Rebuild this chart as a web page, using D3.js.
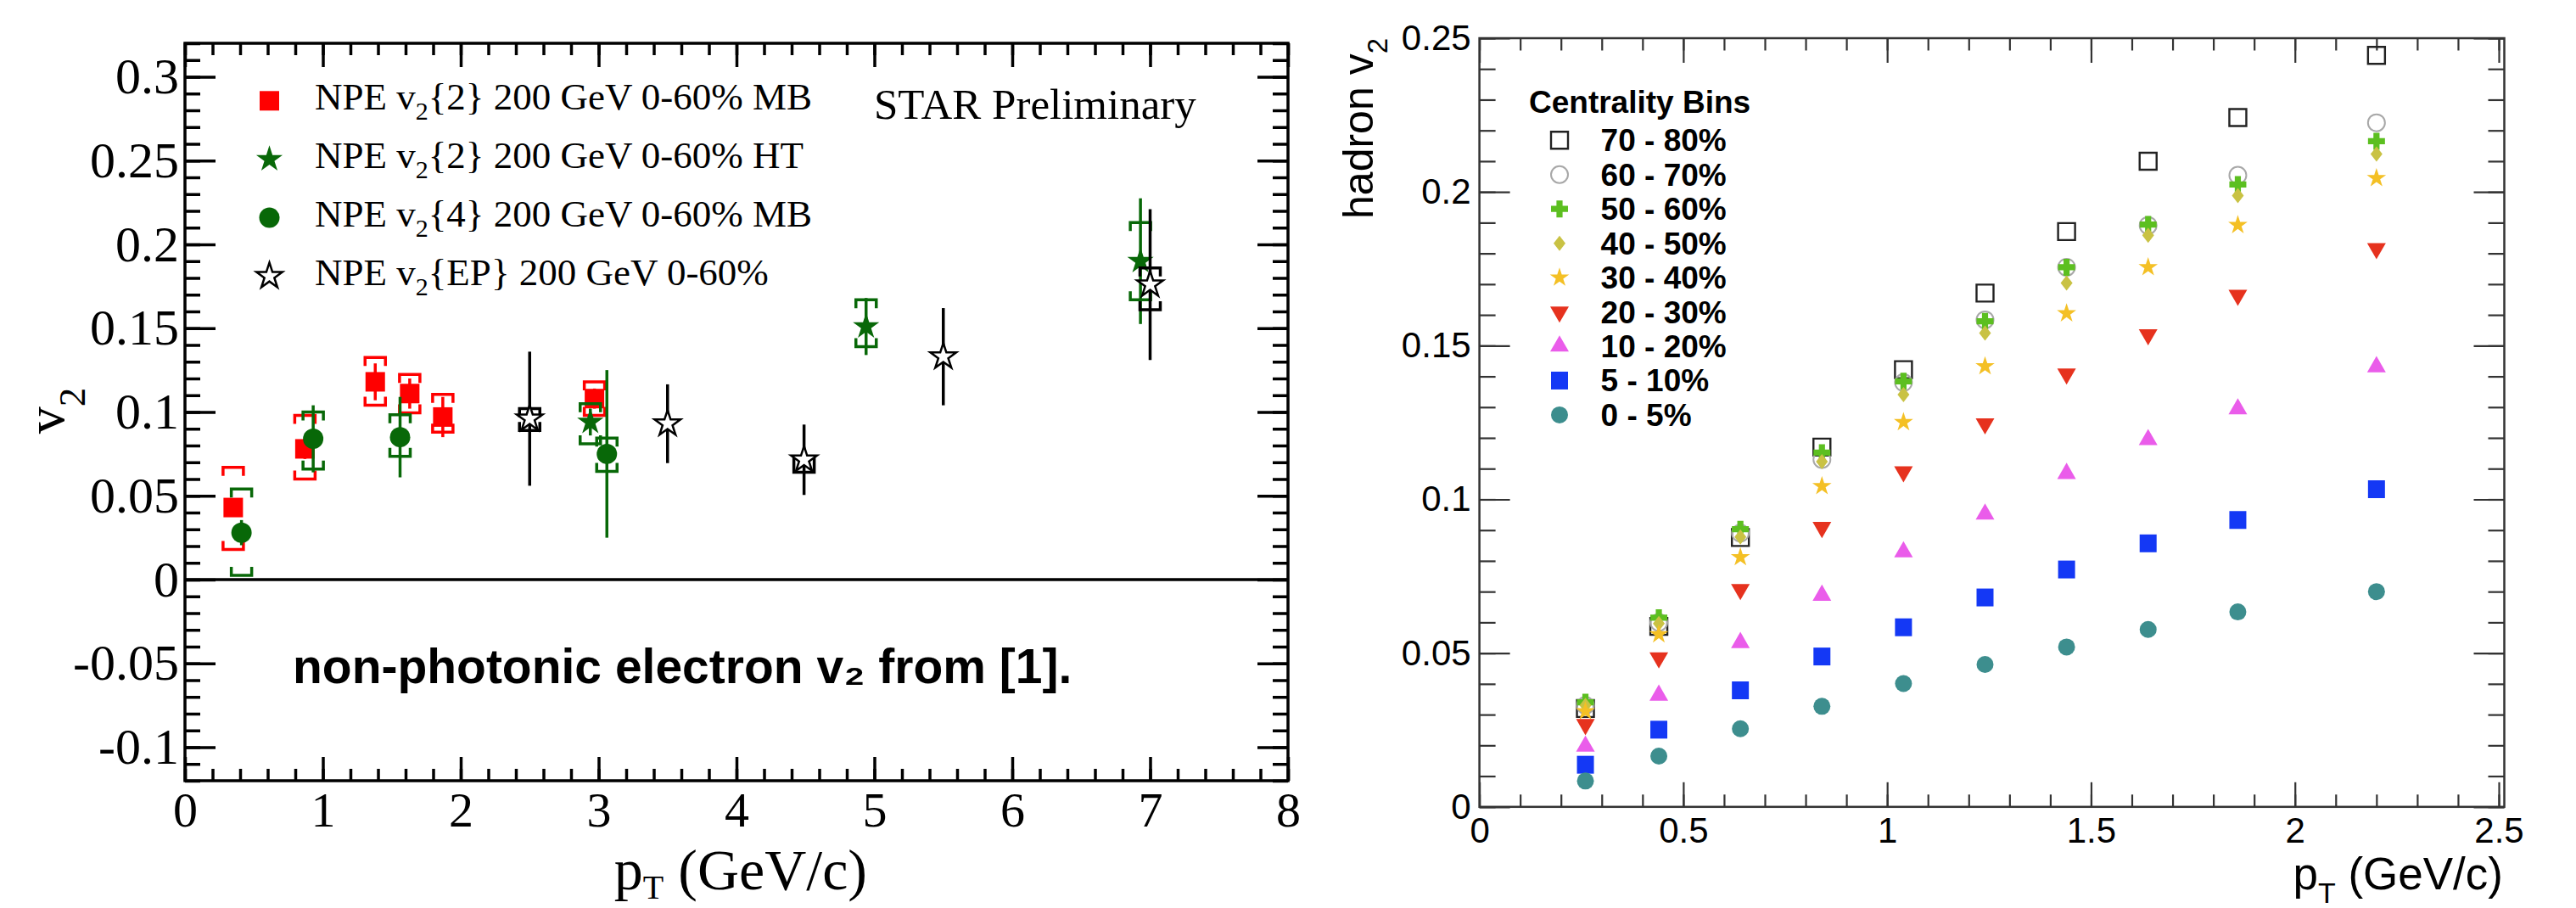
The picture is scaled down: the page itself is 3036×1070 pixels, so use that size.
<!DOCTYPE html>
<html>
<head>
<meta charset="utf-8">
<script src="https://cdn.jsdelivr.net/npm/d3@7"></script>
<style>
  body { margin: 0; background: #fff; }
  svg { display: block; }
</style>
</head>
<body>
<svg id="chart"></svg>
<script>
// ---------- left panel: NPE v2 vs pT ----------
const mbPt    = [0.35, 0.87, 1.38, 1.63, 1.87, 2.97];
const mbV2    = [0.043, 0.078, 0.118, 0.111, 0.097, 0.108];
const mbErr   = [0.004, 0.006, 0.011, 0.009, 0.012, 0.006];
const mbSysLo = [0.018, 0.060, 0.104, 0.0995, 0.088, 0.098];
const mbSysHi = [0.067, 0.098, 0.1325, 0.1224, 0.1105, 0.118];

const htPt    = [2.94, 4.94, 6.93];
const htV2    = [0.094, 0.151, 0.190];
const htErr   = [0.008, 0.017, 0.0375];
const htSysLo = [0.081, 0.139, 0.167];
const htSysHi = [0.105, 0.167, 0.213];

const c4Pt    = [0.41, 0.93, 1.56, 3.06];
const c4V2    = [0.028, 0.084, 0.085, 0.075];
const c4Err   = [0.0075, 0.020, 0.024, 0.050];
const c4SysLo = [0.0025, 0.066, 0.0735, 0.0645];
const c4SysHi = [0.054, 0.100, 0.0984, 0.0844];

const epPt    = [2.50, 3.50, 4.49, 5.50, 7.00];
const epV2    = [0.096, 0.093, 0.0715, 0.133, 0.176];
const epErr   = [0.040, 0.0235, 0.021, 0.029, 0.045];
const epSysLo = [0.089, null, 0.064, null, 0.161];
const epSysHi = [0.102, null, 0.073, null, 0.186];

const leftLegend = [
  ["{2} 200 GeV 0-60% MB"],
  ["{2} 200 GeV 0-60% HT"],
  ["{4} 200 GeV 0-60% MB"],
  ["{EP} 200 GeV 0-60%"]
];
const leftXTicks = [0, 1, 2, 3, 4, 5, 6, 7, 8];
const leftYTicks = [-0.1, -0.05, 0, 0.05, 0.1, 0.15, 0.2, 0.25, 0.3];

// ---------- right panel: hadron v2 vs pT ----------
const hadPt  = [0.26, 0.44, 0.64, 0.84, 1.04, 1.24, 1.44, 1.64, 1.86, 2.2];
const v70_80 = [0.032, 0.0587, 0.0876, 0.117, 0.1422, 0.1671, 0.1871, 0.210, 0.2242, 0.2444];
const v60_70 = [0.033, 0.060, 0.089, 0.113, 0.138, 0.1584, 0.1755, 0.1891, 0.2054, 0.2225];
const v50_60 = [0.034, 0.0615, 0.0903, 0.1152, 0.1384, 0.1579, 0.1755, 0.1894, 0.2024, 0.2165];
const v40_50 = [0.033, 0.0596, 0.0878, 0.1123, 0.1341, 0.1541, 0.1704, 0.1859, 0.1988, 0.2123];
const v30_40 = [0.0311, 0.0561, 0.0812, 0.1043, 0.1251, 0.1433, 0.1605, 0.1755, 0.1892, 0.2045];
const v20_30 = [0.0268, 0.0485, 0.0707, 0.0909, 0.109, 0.1246, 0.1408, 0.1536, 0.1664, 0.1816];
const v10_20 = [0.0197, 0.0363, 0.0534, 0.0688, 0.0829, 0.0952, 0.1084, 0.1194, 0.1294, 0.1431];
const v5_10  = [0.0137, 0.0251, 0.0379, 0.0489, 0.0584, 0.0681, 0.0772, 0.0857, 0.0933, 0.1033];
const v0_5   = [0.0084, 0.0165, 0.0254, 0.0327, 0.0401, 0.0463, 0.052, 0.0577, 0.0634, 0.070];
const centLabels = ["70 - 80%", "60 - 70%", "50 - 60%", "40 - 50%", "30 - 40%",
                    "20 - 30%", "10 - 20%", "5 - 10%", "0 - 5%"];
const rightXTicks = [0, 0.5, 1, 1.5, 2, 2.5];
const rightYTicks = [0, 0.05, 0.1, 0.15, 0.2, 0.25];

// ---------------------------------------------------
const W = 3036, H = 1070;
const svg = d3.select("#chart").attr("width", W).attr("height", H);
svg.append("rect").attr("width", W).attr("height", H).attr("fill", "#fff");

const SERIF = "'Liberation Serif', 'Times New Roman', serif";
const SANS = "'Liberation Sans', Arial, Helvetica, sans-serif";

const fmt = d => String(+d.toFixed(2));

function minors(scale, step) {
  const [a, b] = scale.domain();
  const out = [];
  for (let v = Math.ceil(a / step - 1e-9) * step; v <= b + 1e-9; v += step) out.push(+v.toFixed(4));
  return out;
}

function drawAxes(g, x, y, o) {
  const [x0, x1] = x.range(), [y0, y1] = y.range();
  const style = sel => {
    sel.select(".domain").remove();
    sel.selectAll("line").attr("stroke", o.color).attr("stroke-width", o.tickW);
    sel.attr("font-family", o.font).attr("font-size", null).selectAll("text")
      .attr("fill", "#000");
  };
  // bottom
  g.append("g").attr("transform", `translate(0,${y0})`)
    .call(d3.axisBottom(x).tickValues(minors(x, o.xStep)).tickSize(-o.xMin).tickFormat("")).call(style);
  g.append("g").attr("transform", `translate(0,${y0})`)
    .call(d3.axisBottom(x).tickValues(o.xTicks).tickSize(-o.xMaj).tickPadding(o.xPad).tickFormat(fmt))
    .call(style).selectAll("text").attr("font-size", o.xFont);
  // top mirror
  g.append("g").attr("transform", `translate(0,${y1})`)
    .call(d3.axisTop(x).tickValues(minors(x, o.xStep)).tickSize(-o.xMin).tickFormat("")).call(style);
  g.append("g").attr("transform", `translate(0,${y1})`)
    .call(d3.axisTop(x).tickValues(o.xTicks).tickSize(-o.xMaj).tickFormat("")).call(style);
  // left
  g.append("g").attr("transform", `translate(${x0},0)`)
    .call(d3.axisLeft(y).tickValues(minors(y, o.yStep)).tickSize(-o.yMin).tickFormat("")).call(style);
  g.append("g").attr("transform", `translate(${x0},0)`)
    .call(d3.axisLeft(y).tickValues(o.yTicks).tickSize(-o.yMaj).tickPadding(o.yPad).tickFormat(fmt))
    .call(style).selectAll("text").attr("font-size", o.yFont);
  // right mirror
  g.append("g").attr("transform", `translate(${x1},0)`)
    .call(d3.axisRight(y).tickValues(minors(y, o.yStep)).tickSize(-o.yMin).tickFormat("")).call(style);
  g.append("g").attr("transform", `translate(${x1},0)`)
    .call(d3.axisRight(y).tickValues(o.yTicks).tickSize(-o.yMaj).tickFormat("")).call(style);
  // frame
  g.append("rect").attr("x", x0).attr("y", y1).attr("width", x1 - x0).attr("height", y0 - y1)
    .attr("fill", "none").attr("stroke", o.color).attr("stroke-width", o.frameW);
}

// marker shapes
const plusPath = (s, t) => `M${-t},${-s}H${t}V${-t}H${s}V${t}H${t}V${s}H${-t}V${t}H${-s}V${-t}H${-t}Z`;
function marker(g, type, cx, cy, color) {
  const t = `translate(${cx},${cy})`;
  let p;
  switch (type) {
    case "fsquare": p = g.append("path").attr("d", d3.symbol(d3.symbolSquare, 23 * 23)()).attr("fill", color); break;
    case "fcircle": p = g.append("path").attr("d", d3.symbol(d3.symbolCircle, Math.PI * 12 * 12)()).attr("fill", color); break;
    case "fstar": p = g.append("path").attr("d", d3.symbol(d3.symbolStar, 300)()).attr("fill", color); break;
    case "ostar": p = g.append("path").attr("d", d3.symbol(d3.symbolStar, 290)()).attr("fill", "#fff").attr("stroke", color).attr("stroke-width", 2.5); break;
    case "osq": p = g.append("path").attr("d", d3.symbol(d3.symbolSquare, 20 * 20)()).attr("fill", "none").attr("stroke", color).attr("stroke-width", 2.4); break;
    case "ocirc": p = g.append("path").attr("d", d3.symbol(d3.symbolCircle, Math.PI * 10 * 10)()).attr("fill", "none").attr("stroke", color).attr("stroke-width", 2); break;
    case "plus": p = g.append("path").attr("d", plusPath(10, 3.6)).attr("fill", color); break;
    case "diamond": p = g.append("path").attr("d", "M0,-9L7,0L0,9L-7,0Z").attr("fill", color); break;
    case "star": p = g.append("path").attr("d", d3.symbol(d3.symbolStar, 160)()).attr("fill", color); break;
    case "tdown": p = g.append("path").attr("d", d3.symbol(d3.symbolTriangle, 210)()).attr("fill", color); break;
    case "tup": p = g.append("path").attr("d", d3.symbol(d3.symbolTriangle, 210)()).attr("fill", color); break;
    case "bsq": p = g.append("path").attr("d", "M-10,-10.5H10V10.5H-10Z").attr("fill", color); break;
    case "dcirc": p = g.append("path").attr("d", d3.symbol(d3.symbolCircle, Math.PI * 10 * 10)()).attr("fill", color); break;
  }
  p.attr("transform", type === "tdown" ? t + " rotate(180)" : t);
}

// ================= LEFT PANEL =================
const xL = d3.scaleLinear().domain([0, 8]).range([218, 1518]);
const yL = d3.scaleLinear().domain([-0.12, 0.32]).range([920, 51]);
const gL = svg.append("g");

drawAxes(gL, xL, yL, {
  color: "#000", tickW: 3.5, frameW: 3.5, font: SERIF,
  xTicks: leftXTicks, yTicks: leftYTicks, xStep: 0.2, yStep: 0.01,
  xMaj: 28, xMin: 14, yMaj: 36, yMin: 18, xPad: 13, yPad: 7, xFont: 58, yFont: 60
});

gL.append("line").attr("x1", xL(0)).attr("x2", xL(8)).attr("y1", yL(0)).attr("y2", yL(0))
  .attr("stroke", "#000").attr("stroke-width", 3.5);

function npeSeries(pt, v2, err, lo, hi, color, type) {
  const g = gL.append("g");
  pt.forEach((p, i) => {
    const cx = xL(p);
    if (lo[i] != null) {
      const hw = 12, leg = 10;
      const yh = yL(hi[i]), yl = yL(lo[i]);
      g.append("path")
        .attr("d", `M${cx - hw},${yh + leg}V${yh}H${cx + hw}V${yh + leg}M${cx - hw},${yl - leg}V${yl}H${cx + hw}V${yl - leg}`)
        .attr("fill", "none").attr("stroke", color).attr("stroke-width", 3.5);
    }
    g.append("line").attr("x1", cx).attr("x2", cx)
      .attr("y1", yL(v2[i] + err[i])).attr("y2", yL(v2[i] - err[i]))
      .attr("stroke", color).attr("stroke-width", 3.5);
    marker(g, type, cx, yL(v2[i]), color);
  });
}
npeSeries(mbPt, mbV2, mbErr, mbSysLo, mbSysHi, "#ff0000", "fsquare");
npeSeries(htPt, htV2, htErr, htSysLo, htSysHi, "#086808", "fstar");
npeSeries(c4Pt, c4V2, c4Err, c4SysLo, c4SysHi, "#086808", "fcircle");
npeSeries(epPt, epV2, epErr, epSysLo, epSysHi, "#000", "ostar");

// legend
const legStyle = [["fsquare", "#ff0000"], ["fstar", "#086808"], ["fcircle", "#086808"], ["ostar", "#000"]];
leftLegend.forEach((d, i) => {
  const ry = 118.8 + i * 68.9;
  marker(gL, legStyle[i][0], 317.5, ry, legStyle[i][1]);
  const t = gL.append("text").attr("x", 371).attr("y", ry + 10)
    .attr("font-family", SERIF).attr("font-size", 45);
  t.append("tspan").text("NPE v");
  t.append("tspan").attr("font-size", 30).attr("dy", 12).text("2");
  t.append("tspan").attr("dy", -12).text(d[0]);
});

gL.append("text").attr("x", 1030).attr("y", 140).attr("font-family", SERIF).attr("font-size", 51)
  .text("STAR Preliminary");

gL.append("text").attr("x", 345).attr("y", 805).attr("font-family", SANS).attr("font-weight", "bold")
  .attr("font-size", 57).text("non-photonic electron v\u2082 from [1].");

// axis titles
const xtL = gL.append("text").attr("x", 1022).attr("y", 1048).attr("text-anchor", "end")
  .attr("font-family", SERIF).attr("font-size", 68);
xtL.append("tspan").text("p");
xtL.append("tspan").attr("font-size", 40).attr("dy", 11).text("T");
xtL.append("tspan").attr("dy", -11).text(" (GeV/c)");

const ytL = gL.append("text").attr("transform", "translate(75,484) rotate(-90)")
  .attr("text-anchor", "middle").attr("font-family", SERIF).attr("font-size", 64);
ytL.append("tspan").text("v");
ytL.append("tspan").attr("font-size", 45).attr("dy", 25).text("2");

// ================= RIGHT PANEL =================
const xR = d3.scaleLinear().domain([0, 2.5135]).range([1743.6, 2951.5]);
const yR = d3.scaleLinear().domain([0, 0.25]).range([950.8, 45]);
const gR = svg.append("g");

drawAxes(gR, xR, yR, {
  color: "#333", tickW: 2.2, frameW: 2.5, font: SANS,
  xTicks: rightXTicks, yTicks: rightYTicks, xStep: 0.1, yStep: 0.01,
  xMaj: 29, xMin: 14.5, yMaj: 36, yMin: 19, xPad: 12, yPad: 10, xFont: 42, yFont: 42
});

const hadSeries = [v70_80, v60_70, v50_60, v40_50, v30_40, v20_30, v10_20, v5_10, v0_5];
const hadStyle = [
  ["osq", "#222"], ["ocirc", "#a8a8a8"], ["plus", "#5cbf20"], ["diamond", "#c9c244"],
  ["star", "#f4c025"], ["tdown", "#e6321e"], ["tup", "#ea5cea"], ["bsq", "#1438f5"], ["dcirc", "#3d8e8e"]
];
hadSeries.forEach((vals, s) => {
  const g = gR.append("g");
  vals.forEach((v, i) => marker(g, hadStyle[s][0], xR(hadPt[i]), yR(v), hadStyle[s][1]));
});

// legend
gR.append("text").attr("x", 1802).attr("y", 133).attr("font-family", SANS).attr("font-weight", "bold")
  .attr("font-size", 37).text("Centrality Bins");
centLabels.forEach((lab, i) => {
  const ry = 165.3 + i * 40.45;
  marker(gR, hadStyle[i][0], 1838, ry, hadStyle[i][1]);
  gR.append("text").attr("x", 1886.6).attr("y", ry + 13).attr("font-family", SANS)
    .attr("font-weight", "bold").attr("font-size", 37).text(lab);
});

// axis titles
const xtR = gR.append("text").attr("x", 2950).attr("y", 1048).attr("text-anchor", "end")
  .attr("font-family", SANS).attr("font-size", 53);
xtR.append("tspan").text("p");
xtR.append("tspan").attr("font-size", 34).attr("dy", 16).text("T");
xtR.append("tspan").attr("dy", -16).text(" (GeV/c)");

const ytR = gR.append("text").attr("transform", "translate(1618,45) rotate(-90)")
  .attr("text-anchor", "end").attr("font-family", SANS).attr("font-size", 50);
ytR.append("tspan").text("hadron v");
ytR.append("tspan").attr("font-size", 33).attr("dy", 17).text("2");
</script>
</body>
</html>
